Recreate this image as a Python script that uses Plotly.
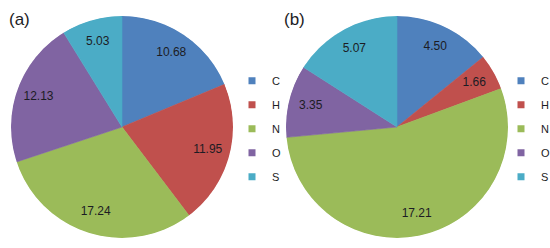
import plotly.graph_objects as go

labels = ["C", "H", "N", "O", "S"]
values_a = [10.68, 11.95, 17.24, 12.13, 5.03]
values_b = [4.50, 1.66, 17.21, 3.35, 5.07]
text_a = ["10.68", "11.95", "17.24", "12.13", "5.03"]
text_b = ["4.50", "1.66", "17.21", "3.35", "5.07"]
colors = ["#4F81BD", "#C0504D", "#9BBB59", "#8064A2", "#4BACC6"]
panel_titles = ["(a)", "(b)"]

W, H = 550, 248
font = "Liberation Sans"
txt_color = "#1c1c24"


def wedge_angles(values):
    total = sum(values)
    widths = [v / total * 360.0 for v in values]
    mids, acc = [], 0.0
    for w in widths:
        mids.append(acc + w / 2.0)
        acc += w
    return mids, widths


fig = go.Figure()
panels = [(values_a, text_a, "polar", "legend", "a"),
          (values_b, text_b, "polar2", "legend2", "b")]
for values, texts, sub, leg, key in panels:
    mids, widths = wedge_angles(values)
    for i, lab in enumerate(labels):
        fig.add_trace(go.Barpolar(
            r=[1], theta=[mids[i]], width=[widths[i]], base=0,
            marker=dict(color=colors[i], line=dict(color=colors[i], width=0.6)),
            name=lab, subplot=sub, showlegend=False,
            hovertemplate=f"{lab}: {values[i]}<extra></extra>",
        ))
    fig.add_trace(go.Scatterpolar(
        r=[0.8] * len(values), theta=mids, text=texts, mode="text",
        textposition="middle center",
        textfont=dict(family=font, size=12, color=txt_color),
        subplot=sub, showlegend=False, hoverinfo="skip",
    ))
    for i, lab in enumerate(labels):
        fig.add_trace(go.Scatterpolar(
            r=[None], theta=[None], mode="markers",
            marker=dict(symbol="square", size=7, color=colors[i]),
            name=lab, subplot=sub, legend=leg, legendgroup=f"{key}{i}",
            showlegend=True,
        ))

dom_y = [10 / H, 232 / H]
polar_common = dict(
    bgcolor="rgba(0,0,0,0)", bargap=0, hole=0,
    radialaxis=dict(visible=False, range=[0, 1]),
    angularaxis=dict(visible=False, rotation=90, direction="clockwise"),
)
leg_common = dict(font=dict(family=font, size=11, color=txt_color),
                  bgcolor="rgba(0,0,0,0)", yanchor="middle", y=0.481,
                  xanchor="left", itemwidth=30, traceorder="grouped",
                  tracegroupgap=5)

fig.update_layout(
    width=W, height=H,
    margin=dict(l=0, r=0, t=0, b=0, autoexpand=False),
    paper_bgcolor="white", plot_bgcolor="white",
    showlegend=True,
    polar=dict(domain=dict(x=[11 / W, 233 / W], y=dom_y), **polar_common),
    polar2=dict(domain=dict(x=[286 / W, 508 / W], y=dom_y), **polar_common),
    legend=dict(x=232 / W, **leg_common),
    legend2=dict(x=501 / W, **leg_common),
    annotations=[
        dict(text=panel_titles[0], x=7 / W, y=1 - 19 / H, xref="paper", yref="paper",
             xanchor="left", yanchor="middle", showarrow=False,
             font=dict(family=font, size=17, color=txt_color)),
        dict(text=panel_titles[1], x=282 / W, y=1 - 19 / H, xref="paper", yref="paper",
             xanchor="left", yanchor="middle", showarrow=False,
             font=dict(family=font, size=17, color=txt_color)),
    ],
)

fig.write_html("out.html", config={"displayModeBar": False},
               post_script="document.body.style.margin='0px';")
